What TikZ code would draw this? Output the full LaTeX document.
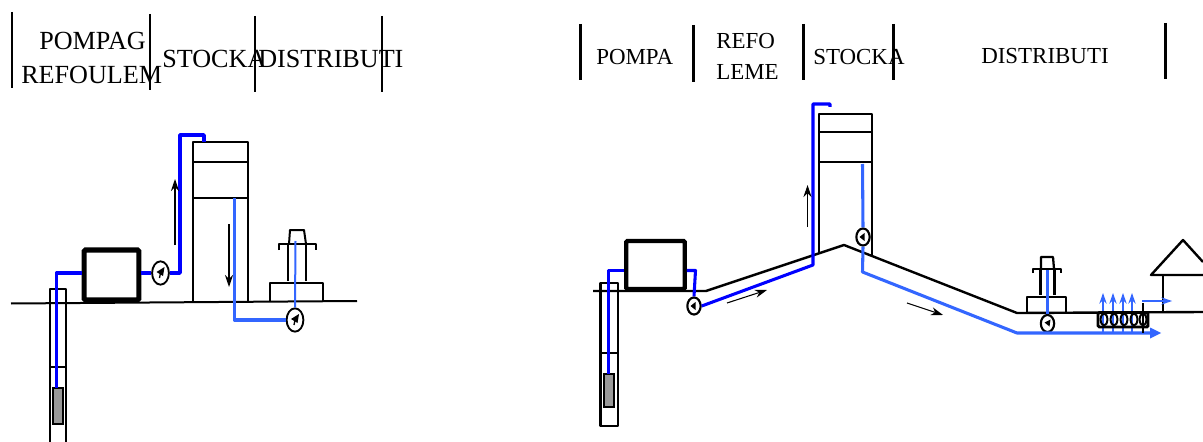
\documentclass[tikz,border=0pt]{standalone}
\usepackage{fontspec}
\usepackage{xcolor}
\setmainfont{Liberation Serif}
\usetikzlibrary{shapes.geometric, arrows.meta, positioning}
\definecolor{pipedark}{RGB}{0,0,255}
\definecolor{pipelight}{RGB}{51,102,255}
\tikzset{
  headbig/.style={anchor=base west, inner sep=0pt, font=\fontsize{19.6}{20}\selectfont},
  headsmall/.style={anchor=base west, inner sep=0pt, font=\fontsize{17.2}{18}\selectfont},
  gaugebig/.style={draw, ellipse, line width=1.4pt, fill=white, inner sep=0pt, minimum width=12.6pt, minimum height=17.5pt},
  gaugesmall/.style={draw, ellipse, line width=1.6pt, fill=white, inner sep=0pt, minimum width=10pt, minimum height=12.8pt},
  wall/.style={line width=1.5pt, line join=round},
  flowdark/.style={pipedark, line width=2.6pt, line join=round},
  flowlight/.style={pipelight, line width=2.6pt, line join=round},
  sense/.style={-{Stealth[length=9pt,width=6pt]}, line width=0.9pt}
}
\begin{document}
\begin{tikzpicture}[x=0.75pt, y=-0.75pt]
    \useasboundingbox (0,0) rectangle (1203,442);
    \fill[white] (0,0) rectangle (1203,442);

    % Header, left
    \foreach \x/\ya/\yb in {12/12/88, 149.5/14/90, 255/16/92, 382/16/92} {
        \draw[line width=1.5pt] (\x,\ya) -- (\x,\yb);
    }
    \node[headbig] (pompag) at (39,50) {POMPAG};
    \node[headbig] (refoulem) at (21,84) {REFOULEM};
    \node[headbig] (stockaL) at (162,68) {STOCKA};
    \node[headbig] (distribL) at (258,68) {DISTRIBUTI};

    % Header, right
    \foreach \x/\ya/\yb in {580.5/24/80, 693.5/25/82, 803.5/24/80, 893.5/24/80, 1165.5/23/79} {
        \draw[line width=1.7pt] (\x,\ya) -- (\x,\yb);
    }
    \node[headsmall] (pompa) at (596,65) {POMPA};
    \node[headsmall] (refo) at (716,49) {REFO};
    \node[headsmall] (leme) at (716,80) {LEME};
    \node[headsmall] (stockaR) at (813,65) {STOCKA};
    \node[headsmall] (distribR) at (981,64) {DISTRIBUTI};

    % --- Left scheme ---
    \draw[wall] (11,303.5) -- (357,301);
    \draw[wall] (49.5,442) -- (49.5,289) -- (66,289) -- (66,442);
    \draw[wall] (49.5,366.5) -- (66,366.5);
    \draw[wall] (193,302) -- (193,142) -- (247.5,142) -- (247.5,302);
    \draw[wall] (193,162) -- (247.5,162);
    \draw[wall] (193,198) -- (247.5,198);
    % Water tower
    \draw[wall] (270,301) -- (270,283) -- (323,283) -- (323,301);
    \draw[wall] (288,281) -- (288,244) (306,281) -- (306,244);
    \draw[wall] (279,250) -- (279,244) -- (316,244) -- (316,250);
    \draw[wall] (289,244) -- (290,230) -- (304,230) -- (306,244);

    \node[gaugebig] (gaugeA) at (160.5,273) {};
    \node[gaugebig] (gaugeB) at (295,320) {};
    \node[draw, line width=3.8pt, rounded corners=1pt, minimum width=41pt, minimum height=37.5pt, inner sep=0pt] (pumpL) at (111.5,275) {};
    \node[draw, fill=gray!80, line width=1.3pt, minimum width=7.5pt, minimum height=27pt, inner sep=0pt] (motorL) at (58,406) {};

    \draw[flowdark] (56.5,388) -- (56.5,273) -- (pumpL.west |- gaugeA.west);
    \draw[flowdark] (pumpL.east |- gaugeA.west) -- (gaugeA.west);
    \draw[flowdark] (gaugeA.east) -- (180,273) -- (180,135) -- (204,135) -- (204,142);
    \draw[flowlight] (234.5,198) -- (234.5,320) -- (gaugeB.west);
    \draw[pipelight, line width=1.5pt] (295.5,241) -- (gaugeB.north);
    \draw[sense] (175,245) -- (175,179);
    \draw[sense] (229,224) -- (229,287);

    % --- Right scheme ---
    \draw[wall, line width=1.8pt] (593,291) -- (706,291) -- (844,245) -- (1017,313) -- (1203,312);
    \draw[wall, line width=1.7pt] (600.5,283) rectangle (618,426);
    \draw[wall, line width=1.7pt] (600.5,353) -- (618,353);
    \draw[wall, line width=1.7pt] (819,253) -- (819,114) -- (872,114) -- (872,256);
    \draw[wall, line width=1.7pt] (819,132) -- (872,132);
    \draw[wall, line width=1.7pt] (819,162) -- (872,162);
    % Water tower
    \draw[wall, line width=1.7pt] (1027,312) -- (1027,297) -- (1066,297) -- (1066,312);
    \draw[wall, line width=1.7pt] (1040.5,295) -- (1040.5,269) (1054.5,295) -- (1054.5,269);
    \draw[wall, line width=1.7pt] (1033,273) -- (1033,269) -- (1061,269) -- (1061,273);
    \draw[wall, line width=1.7pt] (1041,269) -- (1041,257) -- (1053,257) -- (1054,269);
    % House
    \draw[wall, line width=1.8pt] (1203,275) -- (1151,275) -- (1183,240) -- (1203,262);
    \draw[wall, line width=1.8pt] (1163,275) -- (1163,312);

    \node[gaugesmall] (gaugeC) at (694,306) {};
    \node[gaugesmall] (gaugeD) at (863,237) {};
    \node[gaugesmall] (gaugeE) at (1047.5,323.5) {};
    \node[draw, line width=3.2pt, rounded corners=1pt, minimum width=44pt, minimum height=36pt, inner sep=0pt] (pumpR) at (655.5,265) {};
    \node[draw, fill=gray!80, line width=1.5pt, minimum width=7.5pt, minimum height=24.5pt, inner sep=0pt] (motorR) at (609,390.5) {};

    \draw[flowdark, line width=2.3pt] (608.5,374) -- (608.5,270.5) -- (pumpR.west |- 608,270.5);
    \draw[flowdark, line width=2.3pt] (pumpR.east |- 695,270.5) -- (695.5,270.5) -- (gaugeC.north);
    \draw[flowdark, line width=2.3pt] (gaugeC.east) -- (813,265) -- (813,104) -- (830,104) -- (830,107);
    \draw[flowlight, line width=2.3pt] (862.5,164) -- (gaugeD.north);
    \draw[flowlight, line width=2.3pt] (gaugeD.south) -- (862.5,272) -- (1017,333) -- (1150,333);
    \fill[pipelight] (1161,333) -- (1150,327.5) -- (1150,338.5) -- cycle;
    \draw[flowlight, line width=1.8pt] (1047.5,270) -- (gaugeE.north);
    \draw[sense, line width=0.8pt] (807.5,227) -- (807.5,185);
    \draw[sense, line width=0.8pt] (727,303) -- (767,290);
    \draw[sense, line width=0.8pt] (907,303) -- (943,315);

    % Houses' supply
    \foreach \x in {1103,1113,1123,1132} {
        \draw[pipelight, line width=0.9pt, -{Stealth[length=8pt,width=5.5pt]}] (\x,333) -- (\x,293);
    }
    \draw[pipelight, line width=0.9pt, -{Stealth[length=8pt,width=5.5pt]}] (1142,301) -- (1172,301);
    \draw[line width=1.8pt] (1143,303) -- (1143,333);
    \draw[line width=2.2pt, rounded corners=1pt] (1098,312.5) rectangle (1148,327);
    \foreach \x in {1104,1114,1124,1134,1143} {
        \draw[line width=1.5pt] (\x,319.5) ellipse (3.4 and 6);
    }

    % Gauge needles
    \foreach \g in {gaugeA,gaugeB} {
        \fill ([shift={(4,-6)}]\g.center) -- ([shift={(-4,-1)}]\g.center) -- ([shift={(2.5,3)}]\g.center) -- cycle;
        \draw[line width=1pt] ([shift={(-1,5)}]\g.center) -- (\g.center);
    }
    \foreach \g in {gaugeC,gaugeD} {
        \fill ([shift={(-3.5,0)}]\g.center) -- ([shift={(1.5,-4)}]\g.center) -- ([shift={(1.5,4)}]\g.center) -- cycle;
    }
    \fill ([shift={(3,-4)}]gaugeE.center) -- ([shift={(-3,-1)}]gaugeE.center) -- ([shift={(2,3)}]gaugeE.center) -- cycle;
\end{tikzpicture}
\end{document}
